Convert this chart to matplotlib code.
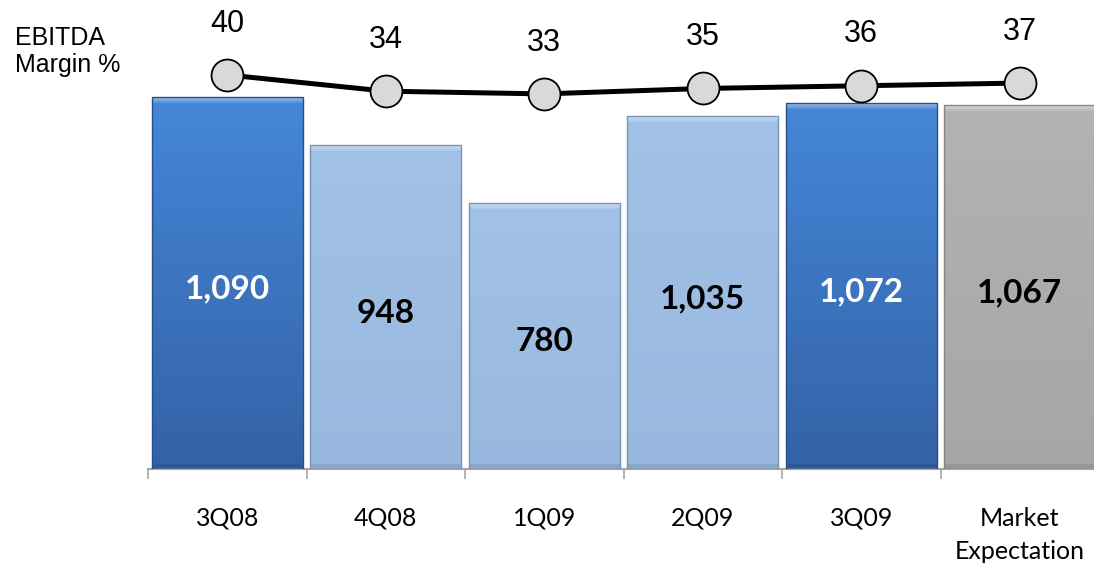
import numpy as np
import matplotlib
matplotlib.use('Agg')
import matplotlib.pyplot as plt
from matplotlib.patches import Rectangle

categories = ['3Q08', '4Q08', '1Q09', '2Q09', '3Q09', 'Market\nExpectation']
ebitda = [1090, 948, 780, 1035, 1072, 1067]
margin = [40, 34, 33, 35, 36, 37]
ebitda_labels = ['1,090', '948', '780', '1,035', '1,072', '1,067']

# colours per bar: (top, bottom, label colour)
dark = ('#4587d8', '#3362a6', 'white')
light = ('#a2c1e6', '#98b8df', 'black')
grey = ('#b3b3b3', '#a6a6a6', 'black')
styles = [dark, light, light, light, dark, grey]

fig = plt.figure(figsize=(10.94, 5.66), dpi=100)
ax = fig.add_axes([148 / 1094, 97 / 566, 951 / 1094, 469 / 566])
ax.set_xlim(-0.5, 5.5)
ax.set_ylim(0, 1374)

x = np.arange(len(categories))
width = 0.95
px = 1374 / 469  # data units per pixel

bars = ax.bar(x, ebitda, width=width, color='none', zorder=2)
for b, st in zip(bars, styles):
    x0, w, h = b.get_x(), b.get_width(), b.get_height()
    grad = np.linspace(0, 1, 256)[:, None]
    c_top = np.array(matplotlib.colors.to_rgb(st[0]))
    c_bot = np.array(matplotlib.colors.to_rgb(st[1]))
    img = c_top[None, None, :] * (1 - grad[..., None]) + c_bot[None, None, :] * grad[..., None]
    img = np.repeat(img, 2, axis=1)
    im = ax.imshow(img, extent=(x0, x0 + w, 0, h), aspect='auto', zorder=2,
                   origin='upper')
    clip = Rectangle((x0, 0), w, h, transform=ax.transData)
    im.set_clip_path(clip)
    # top bevel, fading downwards
    for k in range(6):
        hl = c_top + (1 - c_top) * (0.45 - 0.07 * k)
        ax.add_patch(Rectangle((x0, h - (k + 1) * px), w, px, color=hl, lw=0, zorder=3))
    # bottom bevel / edges
    sh = c_bot * 0.85
    ax.add_patch(Rectangle((x0, 0), w, 5 * px, color=sh, lw=0, zorder=3, alpha=0.6))
    ax.add_patch(Rectangle((x0, 0), w, h, fill=False, ec=c_bot * 0.8, lw=1.0, zorder=4))

for xi, v, lab, st in zip(x, ebitda, ebitda_labels, styles):
    ax.text(xi, v / 2 - 6 * px, lab, ha='center', va='center', fontsize=24,
            fontweight='bold', color=st[2], family='Lato', zorder=5)

for s in ['top', 'right', 'left']:
    ax.spines[s].set_visible(False)
ax.spines['bottom'].set_color('#a6a6a6')
ax.spines['bottom'].set_linewidth(1.5)
ax.set_yticks([])
ax.set_xticks(x)
ax.set_xticklabels(categories, fontsize=18, family='Lato', linespacing=1.55)
ax.tick_params(axis='x', which='major', length=0, pad=27)
ax.set_xticks(np.arange(-0.5, 6, 1), minor=True)
ax.tick_params(axis='x', which='minor', length=7, width=1.2, color='#a6a6a6')

ax2 = ax.twinx()
ax2.set_ylim(-105.2, 67.6)
ax2.axis('off')
ax2.plot(x, margin, color='black', lw=3.6, marker='o', markersize=23,
         markerfacecolor='#d9d9d9', markeredgecolor='black', markeredgewidth=1.3,
         zorder=5, clip_on=False)
for xi, m in zip(x, margin):
    ax2.annotate(str(m), (xi, m), xytext=(0, 37), textcoords='offset points',
                 ha='center', va='center', fontsize=22, family='Liberation Sans',
                 annotation_clip=False)

fig.text(15 / 1094, 1 - 38 / 566, 'EBITDA', fontsize=18, family='Liberation Sans',
         va='center', ha='left')
fig.text(15 / 1094, 1 - 65 / 566, 'Margin %', fontsize=18, family='Liberation Sans',
         va='center', ha='left')

fig.savefig('out.png', dpi=100)
